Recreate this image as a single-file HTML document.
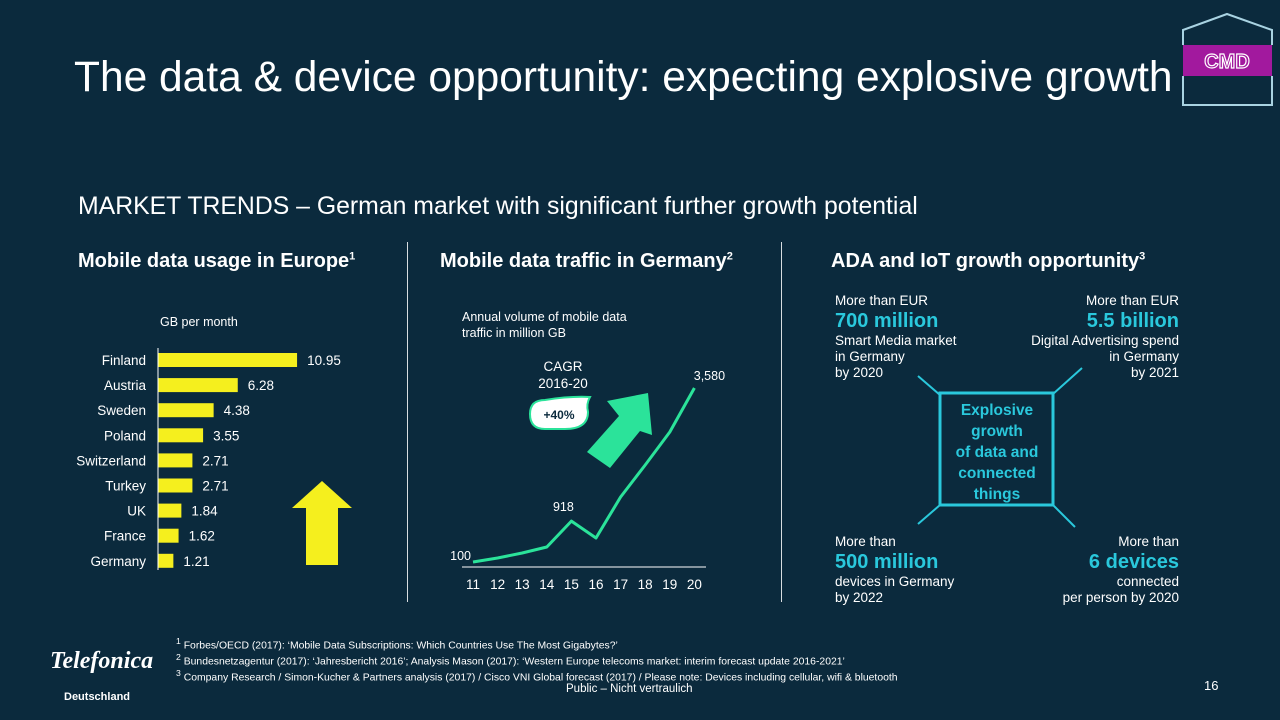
<!DOCTYPE html>
<html><head><meta charset="utf-8"><style>
body{margin:0;width:1280px;height:720px;background:#0b2a3d;font-family:"Liberation Sans",sans-serif;color:#fff;overflow:hidden;position:relative}
.a{position:absolute;white-space:nowrap}
.h{font-weight:bold;font-size:20px}
.s{font-size:13.5px;line-height:16px}
.big{color:#2ac8dc;font-weight:bold;font-size:20px;line-height:24px}
.fn{font-size:10.4px;line-height:11.5px}
</style></head><body>
<div class="a" style="left:74px;top:54px;font-size:42.5px">The data &amp; device opportunity: expecting explosive growth</div>
<svg class="a" style="left:1180px;top:10px" width="96" height="100" viewBox="0 0 96 100">
<path d="M3 35 V20 L47 4 L92 20 V35" fill="none" stroke="#a9d3e2" stroke-width="2"/>
<rect x="3" y="35" width="89" height="31" fill="#a2199e"/>
<text x="47" y="58" text-anchor="middle" font-family="Liberation Sans" font-weight="bold" font-size="20" fill="none" stroke="#fff" stroke-width="1.2">CMD</text>
<path d="M3 66 V95 H92 V66" fill="none" stroke="#a9d3e2" stroke-width="2"/>
</svg>
<div class="a" style="left:78px;top:193px;font-size:24.8px">MARKET TRENDS – German market with significant further growth potential</div>
<div class="a h" style="left:78px;top:250px">Mobile data usage in Europe<sup style="font-size:11px">1</sup></div>
<div class="a h" style="left:440px;top:250px">Mobile data traffic in Germany<sup style="font-size:11px">2</sup></div>
<div class="a h" style="left:831px;top:250px">ADA and IoT growth opportunity<sup style="font-size:11px">3</sup></div>
<div class="a" style="left:407px;top:242px;width:1px;height:360px;background:#d8dde0"></div>
<div class="a" style="left:781px;top:242px;width:1px;height:360px;background:#d8dde0"></div>

<svg class="a" id="bars" style="left:0;top:0" width="410" height="600"></svg>
<svg class="a" id="line" style="left:420px;top:0" width="360" height="600"></svg>

<div class="a s" style="left:835px;top:293px">More than EUR<br><span class="big">700 million</span><br>Smart Media market<br>in Germany<br>by 2020</div>
<div class="a s" style="right:101px;top:293px;text-align:right">More than EUR<br><span class="big">5.5 billion</span><br>Digital Advertising spend<br>in Germany<br>by 2021</div>
<div class="a s" style="left:835px;top:534px">More than<br><span class="big">500 million</span><br>devices in Germany<br>by 2022</div>
<div class="a s" style="right:101px;top:534px;text-align:right">More than<br><span class="big">6 devices</span><br>connected<br>per person by 2020</div>
<svg class="a" style="left:900px;top:360px" width="200" height="180">
<line x1="18" y1="16" x2="40" y2="35" stroke="#2ac8dc" stroke-width="2"/>
<line x1="182" y1="8" x2="153" y2="34" stroke="#2ac8dc" stroke-width="2"/>
<line x1="40" y1="145" x2="18" y2="164" stroke="#2ac8dc" stroke-width="2"/>
<line x1="153" y1="145" x2="175" y2="167" stroke="#2ac8dc" stroke-width="2"/>
<rect x="40" y="33" width="113" height="112" fill="none" stroke="#2ac8dc" stroke-width="3"/>
<text font-family="Liberation Sans" font-weight="bold" font-size="15.5" fill="#2ac8dc" text-anchor="middle"><tspan x="97" y="55">Explosive</tspan><tspan x="97" y="76">growth</tspan><tspan x="97" y="97">of data and</tspan><tspan x="97" y="118">connected</tspan><tspan x="97" y="139">things</tspan></text>
</svg>

<div class="a" style="left:50px;top:648px;font-family:'Liberation Serif',serif;font-style:italic;font-weight:bold;font-size:24px">Telefonica</div>
<div class="a" style="left:64px;top:691px;font-size:11px;font-weight:bold">Deutschland</div>
<div class="a fn" style="left:176px;top:636px"><sup>1</sup> Forbes/OECD (2017): ‘Mobile Data Subscriptions: Which Countries Use The Most Gigabytes?’<br><sup>2</sup> Bundesnetzagentur (2017): ‘Jahresbericht 2016’; Analysis Mason (2017): ‘Western Europe telecoms market: interim forecast update 2016-2021’<br><sup>3</sup> Company Research / Simon-Kucher &amp; Partners analysis (2017) / Cisco VNI Global forecast (2017) / Please note: Devices including cellular, wifi &amp; bluetooth</div>
<div class="a" style="left:566px;top:683px;font-size:11.5px">Public – Nicht vertraulich</div>
<div class="a" style="left:1204px;top:678px;font-size:13px">16</div>

<script>
const countries=["Finland","Austria","Sweden","Poland","Switzerland","Turkey","UK","France","Germany"];
const usage=[10.95,6.28,4.38,3.55,2.71,2.71,1.84,1.62,1.21];
const usageLabels=["10.95","6.28","4.38","3.55","2.71","2.71","1.84","1.62","1.21"];
const years=["11","12","13","14","15","16","17","18","19","20"];
const traffic=[100,180,280,400,918,580,1400,2040,2700,3580];
const NS="http://www.w3.org/2000/svg";
function mk(svg,tag,attrs,txt){const e=document.createElementNS(NS,tag);for(const k in attrs)e.setAttribute(k,attrs[k]);if(txt!=null)e.textContent=txt;svg.appendChild(e);return e;}
const bs=document.getElementById('bars');
const bx=v=>158+v*12.7, by=i=>360+i*25.1;
let t=mk(bs,'text',{x:160,y:326,'font-size':12.5,fill:'#fff','font-family':'Liberation Sans'},'GB per month');


countries.forEach((c,i)=>{
 let r=mk(bs,'rect',{x:bx(0),y:by(i)-7,width:bx(usage[i])-bx(0),height:14,fill:'#f5ef1e'});
 
 
 let l=mk(bs,'text',{x:146,y:by(i)+5,'font-size':13.5,fill:'#fff','text-anchor':'end','font-family':'Liberation Sans'},c);
 
 
 let v=mk(bs,'text',{x:bx(usage[i])+10,y:by(i)+5,'font-size':13.5,fill:'#fff','font-family':'Liberation Sans'},usageLabels[i]);
 
 
});
let ax=mk(bs,'line',{x1:158,y1:348,x2:158,y2:570,stroke:'#fff','stroke-width':1});


let ya=mk(bs,'polygon',{points:'322,481 352,508 338,508 338,565 306,565 306,508 292,508',fill:'#f5ef1e'});



const ls=document.getElementById('line');
const OX=420;
const lx=i=>473+i*24.6-OX, ly=v=>562-(v-100)/20;
let tt=mk(ls,'text',{'font-size':12.5,fill:'#fff','font-family':'Liberation Sans'});
tt.innerHTML='<tspan x="'+(462-OX)+'" y="321">Annual volume of mobile data</tspan><tspan x="'+(462-OX)+'" y="337">traffic in million GB</tspan>';


let cg=mk(ls,'text',{'font-size':13.5,fill:'#fff','text-anchor':'middle','font-family':'Liberation Sans'});
cg.innerHTML='<tspan x="'+(563-OX)+'" y="371">CAGR</tspan><tspan x="'+(563-OX)+'" y="388">2016-20</tspan>';


let bub=mk(ls,'path',{d:'M'+(545-OX)+' 400 Q'+(570-OX)+' 396 '+(590-OX)+' 397 Q'+(586-OX)+' 404 '+(588-OX)+' 412 Q'+(588-OX)+' 429 '+(565-OX)+' 429 H'+(545-OX)+' Q'+(530-OX)+' 429 '+(530-OX)+' 414 Q'+(530-OX)+' 400 '+(545-OX)+' 400 Z',fill:'#fff',stroke:'#2be39a','stroke-width':2});


let bt=mk(ls,'text',{x:559-OX,y:419,'font-size':12,'font-weight':'bold',fill:'#0b2a3d','text-anchor':'middle','font-family':'Liberation Sans'},'+40%');


let ga=mk(ls,'polygon',{points:[[648,393],[607,401],[619,416],[587,452],[610,468],[640,431],[652,435]].map(p=>(p[0]-OX)+','+p[1]).join(' '),fill:'#2be39a'});


let base=mk(ls,'line',{x1:462-OX,y1:567,x2:706-OX,y2:567,stroke:'#fff','stroke-width':1});


let pl=mk(ls,'polyline',{points:traffic.map((v,i)=>lx(i)+','+ly(v)).join(' '),fill:'none',stroke:'#2be39a','stroke-width':3,'stroke-linejoin':'round'});


years.forEach((y,i)=>{
 let e=mk(ls,'text',{x:lx(i),y:589,'font-size':13.5,fill:'#fff','text-anchor':'middle','font-family':'Liberation Sans'},y);
 
 
});
[[0,'end',-2,-2],[4,'middle',-8,-10],[9,'middle',15,-8]].forEach(([i,a,dx,dy])=>{
 let e=mk(ls,'text',{x:lx(i)+dx,y:ly(traffic[i])+dy,'font-size':12.5,fill:'#fff','text-anchor':a,'font-family':'Liberation Sans'},traffic[i].toLocaleString('en-US'));
 
 
});
</script>
</body></html>
